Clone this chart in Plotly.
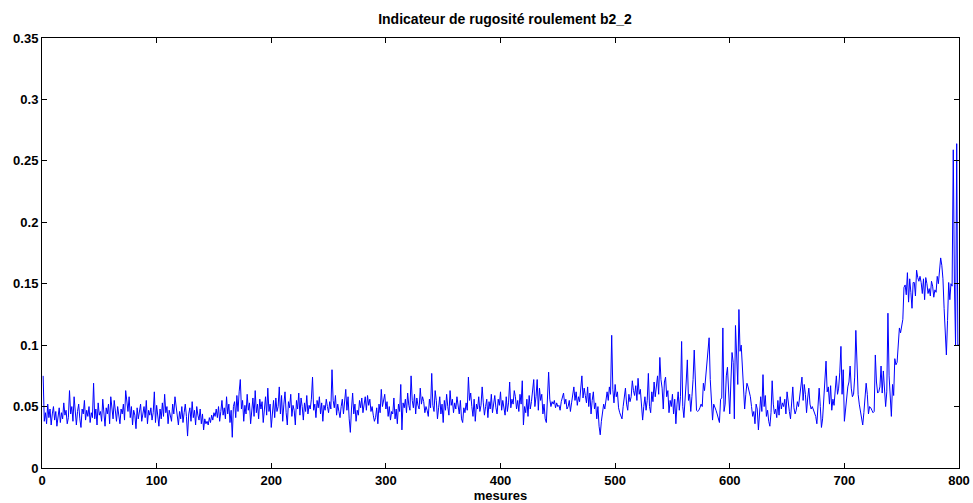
import plotly.graph_objects as go

title_text = "Indicateur de rugosité roulement b2_2"
x_label = "mesures"
x_ticks = [0, 100, 200, 300, 400, 500, 600, 700, 800]
y_ticks = [0, 0.05, 0.1, 0.15, 0.2, 0.25, 0.3, 0.35]
y_tick_labels = ["0", "0.05", "0.1", "0.15", "0.2", "0.25", "0.3", "0.35"]

values = [
    # 0
    0.075, 0.038, 0.045, 0.036, 0.052, 0.041, 0.048, 0.035, 0.044, 0.050, 0.039, 0.046, 0.034, 0.042, 0.049, 0.037, 0.045, 0.040, 0.053, 0.043,
    0.047, 0.036, 0.041, 0.063, 0.044, 0.050, 0.038, 0.058, 0.042, 0.035, 0.046, 0.052, 0.040, 0.033, 0.048, 0.044, 0.055, 0.039, 0.047, 0.042,
    0.050, 0.037, 0.045, 0.041, 0.069, 0.040, 0.048, 0.035, 0.053, 0.043, 0.046, 0.038, 0.056, 0.041, 0.034, 0.049, 0.044, 0.052, 0.036, 0.058,
    0.045, 0.040, 0.055, 0.047, 0.038, 0.050, 0.042, 0.036, 0.048, 0.044, 0.052, 0.039, 0.063, 0.053, 0.046, 0.058, 0.041, 0.050, 0.035, 0.047,
    0.043, 0.032, 0.049, 0.040, 0.046, 0.052, 0.038, 0.044, 0.050, 0.041, 0.055, 0.036, 0.047, 0.043, 0.049, 0.039, 0.045, 0.062, 0.037, 0.051,
    # 100
    0.044, 0.034, 0.048, 0.040, 0.053, 0.042, 0.060, 0.045, 0.050, 0.036, 0.047, 0.041, 0.038, 0.052, 0.044, 0.058, 0.049, 0.043, 0.035, 0.046,
    0.040, 0.050, 0.037, 0.045, 0.052, 0.042, 0.026, 0.044, 0.049, 0.038, 0.054, 0.041, 0.047, 0.035, 0.050, 0.043, 0.039, 0.048, 0.036, 0.044,
    0.031, 0.040, 0.036, 0.038, 0.035, 0.041, 0.037, 0.043, 0.039, 0.045, 0.042, 0.048, 0.041, 0.050, 0.038, 0.046, 0.055, 0.043, 0.049, 0.040,
    0.058, 0.044, 0.052, 0.037, 0.047, 0.025, 0.050, 0.054, 0.041, 0.059, 0.046, 0.062, 0.072, 0.048, 0.055, 0.038, 0.051, 0.044, 0.060, 0.047,
    0.053, 0.036, 0.049, 0.057, 0.042, 0.063, 0.045, 0.052, 0.040, 0.056, 0.048, 0.054, 0.037, 0.050, 0.058, 0.043, 0.065, 0.046, 0.052, 0.033,
    # 200
    0.048, 0.055, 0.041, 0.057, 0.046, 0.050, 0.066, 0.044, 0.059, 0.038, 0.052, 0.062, 0.045, 0.035, 0.054, 0.049, 0.060, 0.042, 0.051, 0.047,
    0.035, 0.055, 0.048, 0.061, 0.043, 0.057, 0.050, 0.039, 0.053, 0.046, 0.059, 0.044, 0.051, 0.048, 0.056, 0.074, 0.047, 0.052, 0.041, 0.055,
    0.049, 0.058, 0.044, 0.053, 0.038, 0.051, 0.047, 0.056, 0.050, 0.045, 0.054, 0.048, 0.080, 0.055, 0.049, 0.059, 0.043, 0.052, 0.046, 0.041,
    0.050, 0.056, 0.044, 0.053, 0.064, 0.047, 0.058, 0.040, 0.029, 0.048, 0.061, 0.044, 0.052, 0.038, 0.047, 0.043, 0.055, 0.049, 0.057, 0.045,
    0.053, 0.058, 0.047, 0.059, 0.051, 0.056, 0.046, 0.050, 0.043, 0.038, 0.041, 0.049, 0.036, 0.052, 0.045, 0.064, 0.050, 0.056, 0.060, 0.048,
    # 300
    0.054, 0.042, 0.050, 0.039, 0.046, 0.044, 0.057, 0.040, 0.048, 0.036, 0.052, 0.046, 0.068, 0.031, 0.053, 0.049, 0.056, 0.045, 0.061, 0.051,
    0.047, 0.075, 0.055, 0.049, 0.060, 0.044, 0.057, 0.051, 0.048, 0.065, 0.052, 0.058, 0.054, 0.045, 0.050, 0.047, 0.042, 0.056, 0.049, 0.077,
    0.051, 0.046, 0.063, 0.055, 0.040, 0.049, 0.058, 0.044, 0.052, 0.037, 0.055, 0.047, 0.060, 0.050, 0.043, 0.063, 0.051, 0.056, 0.045, 0.053,
    0.048, 0.058, 0.052, 0.044, 0.055, 0.040, 0.037, 0.049, 0.045, 0.053, 0.047, 0.074, 0.055, 0.061, 0.050, 0.042, 0.056, 0.038, 0.052, 0.048,
    0.058, 0.046, 0.051, 0.066, 0.053, 0.043, 0.050, 0.056, 0.041, 0.054, 0.048, 0.060, 0.045, 0.052, 0.059, 0.049, 0.044, 0.056, 0.051, 0.062,
    # 400
    0.047, 0.055, 0.050, 0.043, 0.058, 0.046, 0.053, 0.070, 0.049, 0.056, 0.052, 0.063, 0.058, 0.048, 0.055, 0.046, 0.060, 0.052, 0.071, 0.035,
    0.050, 0.045, 0.056, 0.042, 0.059, 0.048, 0.054, 0.062, 0.072, 0.050, 0.058, 0.072, 0.047, 0.065, 0.055, 0.060, 0.044, 0.052, 0.040, 0.037,
    0.063, 0.078, 0.056, 0.050, 0.054, 0.052, 0.055, 0.049, 0.053, 0.050, 0.051, 0.047, 0.054, 0.058, 0.061, 0.052, 0.056, 0.048, 0.050, 0.055,
    0.046, 0.053, 0.060, 0.066, 0.055, 0.062, 0.051, 0.058, 0.054, 0.063, 0.075, 0.057, 0.065, 0.059, 0.053, 0.066, 0.050, 0.061, 0.044, 0.055,
    0.062, 0.048, 0.053, 0.040, 0.050, 0.034, 0.027, 0.038, 0.045, 0.052, 0.048, 0.058, 0.062, 0.055, 0.066, 0.060, 0.108, 0.064, 0.053, 0.068,
    # 500
    0.058, 0.062, 0.049, 0.045, 0.042, 0.040, 0.050, 0.056, 0.065, 0.052, 0.047, 0.060, 0.054, 0.058, 0.071, 0.063, 0.059, 0.067, 0.055, 0.073,
    0.060, 0.064, 0.052, 0.039, 0.050, 0.058, 0.047, 0.055, 0.077, 0.050, 0.045, 0.062, 0.054, 0.070, 0.058, 0.066, 0.075, 0.060, 0.090, 0.072,
    0.065, 0.048, 0.070, 0.074, 0.058, 0.063, 0.045, 0.055, 0.050, 0.060, 0.044, 0.056, 0.036, 0.052, 0.062, 0.047, 0.058, 0.103, 0.050, 0.041,
    0.062, 0.070, 0.088, 0.055, 0.060, 0.046, 0.058, 0.072, 0.096, 0.068, 0.047, 0.046, 0.047, 0.049, 0.052, 0.050, 0.069, 0.063, 0.075, 0.088,
    0.097, 0.106, 0.072, 0.048, 0.039, 0.052, 0.050, 0.047, 0.044, 0.040, 0.037, 0.056, 0.057, 0.114, 0.046, 0.052, 0.075, 0.082, 0.058, 0.044,
    # 600
    0.070, 0.094, 0.086, 0.040, 0.116, 0.090, 0.068, 0.129, 0.095, 0.100, 0.080, 0.055, 0.048, 0.060, 0.069, 0.066, 0.062, 0.058, 0.050, 0.042,
    0.046, 0.036, 0.052, 0.048, 0.031, 0.044, 0.058, 0.046, 0.076, 0.050, 0.059, 0.042, 0.047, 0.038, 0.034, 0.045, 0.071, 0.052, 0.044, 0.048,
    0.041, 0.055, 0.043, 0.058, 0.048, 0.053, 0.050, 0.056, 0.044, 0.062, 0.052, 0.046, 0.040, 0.058, 0.066, 0.049, 0.044, 0.047, 0.054, 0.050,
    0.058, 0.063, 0.074, 0.055, 0.068, 0.060, 0.045, 0.057, 0.065, 0.052, 0.048, 0.050, 0.047, 0.046, 0.042, 0.036, 0.052, 0.065, 0.050, 0.033,
    0.040, 0.055, 0.070, 0.087, 0.062, 0.066, 0.052, 0.067, 0.047, 0.056, 0.051, 0.062, 0.075, 0.060, 0.065, 0.078, 0.099, 0.060, 0.080, 0.038,
    # 700
    0.048, 0.055, 0.066, 0.070, 0.083, 0.065, 0.058, 0.060, 0.074, 0.112, 0.074, 0.060, 0.052, 0.045, 0.040, 0.035, 0.045, 0.058, 0.069, 0.060,
    0.044, 0.050, 0.049, 0.047, 0.045, 0.046, 0.092, 0.070, 0.061, 0.062, 0.066, 0.083, 0.061, 0.079, 0.065, 0.050, 0.062, 0.126, 0.075, 0.055,
    0.042, 0.068, 0.059, 0.089, 0.084, 0.086, 0.098, 0.114, 0.110, 0.118, 0.121, 0.147, 0.149, 0.141, 0.159, 0.135, 0.154, 0.143, 0.130, 0.151,
    0.151, 0.140, 0.161, 0.155, 0.152, 0.156, 0.151, 0.142, 0.154, 0.137, 0.155, 0.150, 0.142, 0.146, 0.140, 0.152, 0.148, 0.139, 0.145, 0.143,
    0.156, 0.150, 0.162, 0.171, 0.165, 0.154, 0.130, 0.104, 0.092, 0.120, 0.151, 0.137, 0.150, 0.148, 0.259, 0.150, 0.100, 0.264, 0.100, 0.100,
]
measures = list(range(1, len(values) + 1))

FONT = "Liberation Sans, Arial, sans-serif"

fig = go.Figure()
fig.add_trace(go.Scatter(
    x=measures, y=values, mode="lines",
    line=dict(color="#0000FF", width=1),
    showlegend=False, hoverinfo="x+y",
))

axis_common = dict(
    showgrid=False, zeroline=False, automargin=False,
    showline=True, linecolor="black", linewidth=1, mirror="ticks",
    ticks="inside", ticklen=5, tickwidth=1, tickcolor="black",
    tickfont=dict(family=FONT, size=13, color="black", weight="bold"),
)

fig.update_layout(
    width=973, height=503,
    margin=dict(l=42, r=14, t=38, b=35),
    paper_bgcolor="white", plot_bgcolor="white",
    title=dict(
        text=title_text, x=0.519, xanchor="center", y=0.962, yanchor="middle",
        font=dict(family=FONT, size=14, color="black", weight="bold"),
    ),
    xaxis=dict(
        range=[0, 800], tickvals=x_ticks, ticktext=[str(t) for t in x_ticks],
        title=dict(text=x_label, standoff=1,
                   font=dict(family=FONT, size=13, color="black", weight="bold")),
        **axis_common,
    ),
    yaxis=dict(
        range=[0, 0.35], tickvals=y_ticks, ticktext=y_tick_labels,
        **axis_common,
    ),
)

fig.write_html(
    "out.html",
    config={"displayModeBar": False},
    post_script="document.body.style.margin='0';document.body.style.overflow='hidden';",
)
